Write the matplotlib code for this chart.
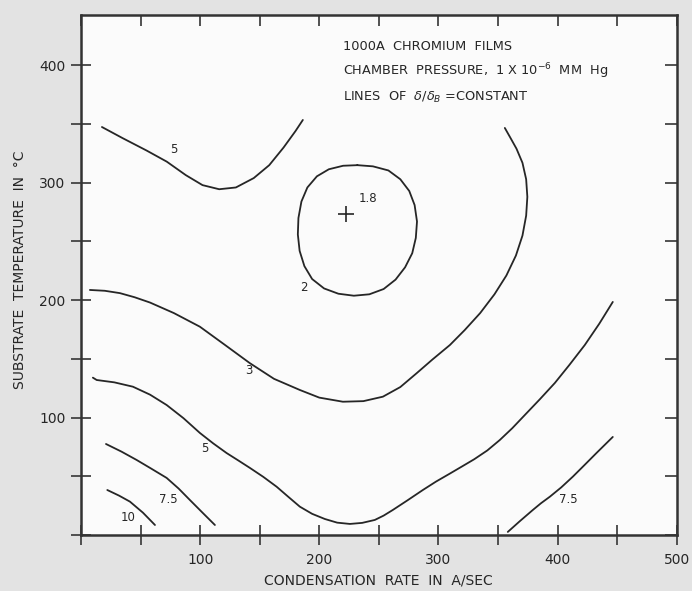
import matplotlib
matplotlib.use('Agg')
import matplotlib.pyplot as plt
import matplotlib.lines as mlines
from matplotlib.ticker import MultipleLocator

top5_x = [17.6, 35, 55, 72, 88, 102, 116, 130, 145, 158, 170, 180, 186.2]
top5_y = [347.5, 338, 327.5, 318, 306.5, 298, 294.5, 296, 304, 315, 330, 344, 353.5]

loop2_x = [232, 245, 258, 268, 275.5, 280, 282, 281, 278, 272, 264, 254, 242, 229,
           216, 204, 194, 187.5, 183.5, 182, 182.5, 185, 190, 198, 208, 220, 232]
loop2_y = [315, 314, 310.5, 303, 293, 281, 267, 253, 240, 228, 217.5, 209.5, 205,
           203.8, 205.5, 210, 218, 229, 242, 256, 270, 284, 296, 305.5, 311.5, 314.5, 315]

line3_x = [7.5, 20, 32.7, 45, 57.9, 78, 99.8, 120, 141.8, 162, 183.7, 200, 219.8,
           237, 253.4, 268, 281.6, 295, 309.6, 322, 335, 347, 357, 365, 370.5, 373.6,
           374.6, 373.6, 370.5, 365.5, 360, 355.7]
line3_y = [208.7, 208, 206, 202.5, 198, 189, 177.4, 162.5, 146.3, 133, 123.5, 117,
           113.5, 114, 117.8, 126, 137.7, 149.5, 161.8, 174.5, 189, 205, 221, 238,
           255, 272, 288, 303, 317, 329, 339, 346.7]

low5_x = [10, 13.2, 28, 43.6, 58, 71.9, 86, 99.8, 111, 122.2, 132, 141.8, 153, 164.2,
          174, 183.7, 194, 204.7, 215, 225.7, 236, 246.6, 254, 261.7, 274, 286.9, 298,
          309.6, 320, 330, 341, 351.5, 362, 372.5, 385, 397.7, 410, 422.8, 435, 446.3]
low5_y = [134, 132, 130, 126.3, 119.5, 110.7, 99.5, 86.9, 78, 69.8, 63.5, 57.1, 49.5,
          41.1, 32.5, 24.1, 18, 13.6, 10.5, 9.4, 10.3, 12.8, 16.5, 21.3, 29.5, 38.3,
          45.5, 52.3, 58.5, 64.5, 72, 80.9, 91, 102.2, 115.5, 129.5, 145, 161.8, 180, 198.5]

left75_x = [21, 34, 46.7, 59, 71.9, 82, 91.4, 102, 112.4]
left75_y = [77.5, 71, 63.9, 56.5, 48.6, 39.5, 29.8, 19, 8.5]

line10_x = [22.1, 32, 41.1, 52, 62.1]
line10_y = [38.3, 33.5, 28.4, 19, 8.5]

right75_x = [358.2, 368, 379.2, 386, 393.5, 403, 412.8, 422.5, 432.6, 446.3]
right75_y = [2.6, 11.5, 21.3, 27, 32.6, 40.5, 49.7, 59.5, 69.8, 83.5]

labels = ['5', '3', '5', '7.5', '10', '7.5', '2', '1.8']
label_x = [78, 141, 104, 73, 39.4, 408.6, 187, 241]
label_y = [328, 140.5, 74, 30, 15.3, 29.8, 211, 287]

min_x, min_y = 222.3, 273.8

ink = '#262626'
plt.rcParams['font.family'] = ['DejaVu Sans']

fig = plt.figure(figsize=(6.92, 5.91), dpi=100, facecolor='#e3e3e3')
ax = fig.add_axes([0.117, 0.0948, 0.861, 0.88])
ax.set_facecolor('#fbfbfb')

for xs, ys in [(top5_x, top5_y), (loop2_x, loop2_y), (line3_x, line3_y),
               (low5_x, low5_y), (left75_x, left75_y), (line10_x, line10_y),
               (right75_x, right75_y)]:
    ax.plot(xs, ys, color=ink, lw=1.3, solid_capstyle='round', solid_joinstyle='round')

ax.plot(min_x, min_y, marker='+', ms=11, mew=1.2, color=ink)

for t, x, y in zip(labels, label_x, label_y):
    ax.text(x, y, t, fontsize=8.5, color=ink, ha='center', va='center')

note_kw = dict(fontsize=9.3, color=ink, va='center')
ax.text(220, 416, '1000A  CHROMIUM  FILMS', **note_kw)
ax.text(220, 395, 'CHAMBER  PRESSURE,  1 X 10$^{-6}$  MM  Hg', **note_kw)
ax.text(220, 373, 'LINES  OF  $\\delta/\\delta_B$ =CONSTANT', **note_kw)

ax.set_xlim(0, 500)
ax.set_ylim(0, 443)
ax.xaxis.set_minor_locator(MultipleLocator(50))
ax.yaxis.set_minor_locator(MultipleLocator(50))
ax.set_xticks([100, 200, 300, 400, 500])
ax.set_yticks([100, 200, 300, 400])

ax.tick_params(which='both', direction='inout', length=14, width=1.3, color='#444',
               top=True, right=True, labelsize=10, labelcolor=ink)
ax.tick_params(axis='x', pad=6)
ax.tick_params(axis='y', pad=4)

for s in ax.spines.values():
    s.set_color('#333')
    s.set_linewidth(1.8)

ax.set_xlabel('CONDENSATION  RATE  IN  A/SEC', fontsize=10, color=ink)
ax.set_ylabel('SUBSTRATE  TEMPERATURE  IN  °C', fontsize=10, color=ink)
ax.xaxis.set_label_coords(0.5, -0.075)
ax.yaxis.set_label_coords(-0.09, 0.51)

# top and right ticks point only into the plot
fig.canvas.draw()
for tk in ax.xaxis.get_major_ticks() + ax.xaxis.get_minor_ticks():
    tk.tick2line.set_marker(mlines.TICKDOWN)
    tk.tick2line.set_markersize(8)
for tk in ax.yaxis.get_major_ticks() + ax.yaxis.get_minor_ticks():
    tk.tick2line.set_marker(mlines.TICKLEFT)
    tk.tick2line.set_markersize(9)

fig.savefig('out.png', dpi=100, facecolor=fig.get_facecolor())
